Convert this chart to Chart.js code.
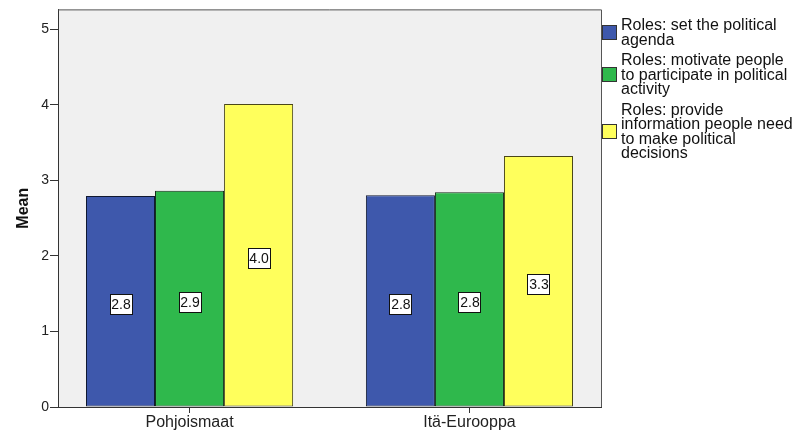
<html>
<head>
<meta charset="utf-8">
<script src="https://cdn.jsdelivr.net/npm/chart.js@4.4.0/dist/chart.umd.min.js"></script>
<style>
  body { margin: 0; background: #fff; }
  #wrap { position: relative; width: 797px; height: 439px; }
  #legend { position: absolute; left: 602px; top: 18px; font-family: "Liberation Sans", Arial, sans-serif; font-size: 16px; line-height: 14.5px; color: #111; }
  .item { display: flex; align-items: center; margin-bottom: 6px; }
  .box { width: 13px; height: 13px; border: 1px solid #333; margin-right: 4px; flex: none; }
</style>
</head>
<body>
<div id="wrap">
  <canvas id="bar-chart" width="797" height="439"></canvas>
  <div id="legend"></div>
</div>
<script>
var categories = ['Pohjoismaat', 'Itä-Eurooppa'];
var seriesNames = [
  ['Roles: set the political', 'agenda'],
  ['Roles: motivate people', 'to participate in political', 'activity'],
  ['Roles: provide', 'information people need', 'to make political', 'decisions']
];
var setAgenda = [2.79, 2.80];
var motivate = [2.86, 2.84];
var provideInfo = [4.01, 3.32];
var yTicks = [0, 1, 2, 3, 4, 5];

var fills = ['#3E58AC', '#2FB84C', '#FFFF5C'];
var borders = ['#101830', '#0f2a15', '#4a4718'];
var values = [setAgenda, motivate, provideInfo];

// plot background + top/right frame
var frame = {
  id: 'frame',
  beforeDraw: function(chart) {
    var a = chart.chartArea, c = chart.ctx;
    c.save();
    c.fillStyle = '#F0F0F0';
    c.fillRect(a.left, a.top, a.right - a.left, a.bottom - a.top);
    c.restore();
  },
  afterDraw: function(chart) {
    var a = chart.chartArea, c = chart.ctx;
    c.save();
    c.strokeStyle = '#555';
    c.lineWidth = 1;
    c.beginPath();
    c.moveTo(a.left, a.top + 0.5);
    c.lineTo(a.right + 0.5, a.top + 0.5);
    c.lineTo(a.right + 0.5, a.bottom);
    c.stroke();
    c.restore();
  }
};

// boxed value labels in the middle of each bar
var valueLabels = {
  id: 'valueLabels',
  afterDatasetsDraw: function(chart) {
    var c = chart.ctx;
    c.save();
    c.font = '14px "Liberation Sans", Arial, sans-serif';
    c.textAlign = 'center';
    c.textBaseline = 'middle';
    chart.data.datasets.forEach(function(ds, i) {
      chart.getDatasetMeta(i).data.forEach(function(bar, j) {
        var txt = values[i][j].toFixed(1);
        var cy = Math.round((bar.y + bar.base) / 2) + 3;
        var w = 22, h = 20;
        var x0 = Math.round(bar.x - w / 2) + 0.5, y0 = cy - h / 2 + 0.5;
        c.fillStyle = '#fff';
        c.fillRect(x0, y0, w, h);
        c.strokeStyle = '#111';
        c.lineWidth = 1;
        c.strokeRect(x0, y0, w, h);
        c.fillStyle = '#111';
        c.fillText(txt, bar.x + 0.5, cy + 1);
      });
    });
    c.restore();
  }
};

var ctx = document.getElementById('bar-chart').getContext('2d');
var chart = new Chart(ctx, {
  type: 'bar',
  data: {
    datasets: values.map(function(v, i) {
      return {
        label: seriesNames[i].join(' '),
        data: v.map(function(y, k) { return { x: k, y: y }; }),
        backgroundColor: fills[i],
        borderColor: borders[i],
        borderWidth: 1,
        borderSkipped: false
      };
    })
  },
  options: {
    responsive: false,
    animation: false,
    events: [],
    layout: { padding: { left: 0, top: 9, right: 196, bottom: 0 } },
    categoryPercentage: 0.74,
    barPercentage: 1,
    plugins: { legend: { display: false }, tooltip: { enabled: false } },
    scales: {
      x: {
        type: 'linear',
        min: -0.47,
        max: 1.47,
        offset: false,
        grid: { offset: false, drawOnChartArea: false, drawTicks: true, tickLength: 6, color: '#333' },
        border: { display: true, color: '#333', width: 1 },
        ticks: {
          color: '#222',
          font: { family: '"Liberation Sans", Arial, sans-serif', size: 16 },
          padding: 0,
          callback: function(v) { return categories[v]; }
        },
        afterBuildTicks: function(s) {
          s.ticks = categories.map(function(c, k) { return { value: k }; });
        },
        afterFit: function(s) { s.height = 32; }
      },
      y: {
        min: 0,
        max: 5.26,
        grid: { drawOnChartArea: false, drawTicks: true, tickLength: 8, color: '#333' },
        border: { display: true, color: '#333', width: 1 },
        ticks: { color: '#222', font: { family: '"Liberation Sans", Arial, sans-serif', size: 14 }, padding: 1 },
        afterBuildTicks: function(s) {
          s.ticks = yTicks.map(function(v) { return { value: v }; });
        },
        title: { display: true, text: 'Mean', color: '#111', font: { family: '"Liberation Sans", Arial, sans-serif', size: 16, weight: 'bold' }, padding: { top: 14, bottom: 0 } },
        afterFit: function(s) { s.width = 58; }
      }
    }
  },
  plugins: [frame, valueLabels]
});

// legend with wrapped lines, like the original
var legend = document.getElementById('legend');
seriesNames.forEach(function(lines, i) {
  var item = document.createElement('div');
  item.className = 'item';
  var box = document.createElement('div');
  box.className = 'box';
  box.style.background = fills[i];
  var txt = document.createElement('div');
  txt.innerHTML = lines.join('<br>');
  item.appendChild(box);
  item.appendChild(txt);
  legend.appendChild(item);
});
</script>
</body>
</html>
